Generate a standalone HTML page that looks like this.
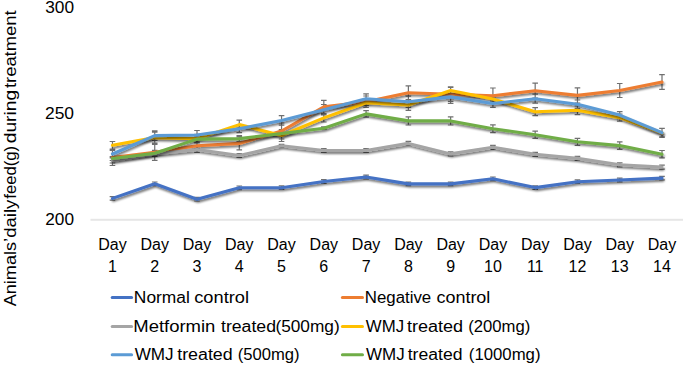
<!DOCTYPE html>
<html><head><meta charset="utf-8"><style>
html,body{margin:0;padding:0;background:#fff;}
body{width:685px;height:365px;overflow:hidden;position:relative;}
svg{position:absolute;left:0;top:0;}
text{font-family:"Liberation Sans",sans-serif;fill:#000;}
</style></head><body>
<svg width="685" height="365" viewBox="0 0 685 365">
<defs>
<filter id="sh" x="-5%" y="-20%" width="110%" height="160%">
<feGaussianBlur in="SourceAlpha" stdDeviation="1.0"/>
<feOffset dx="0.5" dy="1.6" result="b"/>
<feComponentTransfer><feFuncA type="linear" slope="0.55"/></feComponentTransfer>
<feMerge><feMergeNode/><feMergeNode in="SourceGraphic"/></feMerge>
</filter>
</defs>
<rect x="0" y="0" width="685" height="365" fill="#fff"/>

<rect x="90.5" y="218.8" width="592.5" height="2" fill="#E6E6E6"/>
<text x="45.19" y="12.8" font-size="16" textLength="28.87" lengthAdjust="spacingAndGlyphs">300</text>
<text x="44.98" y="118.9" font-size="16" textLength="29.08" lengthAdjust="spacingAndGlyphs">250</text>
<text x="45.29" y="224.6" font-size="16" textLength="28.77" lengthAdjust="spacingAndGlyphs">200</text>
<text x="112.46" y="250" font-size="16" text-anchor="middle">Day</text>
<text x="112.46" y="272.2" font-size="16" text-anchor="middle">1</text>
<text x="154.73" y="250" font-size="16" text-anchor="middle">Day</text>
<text x="154.73" y="272.2" font-size="16" text-anchor="middle">2</text>
<text x="197.00" y="250" font-size="16" text-anchor="middle">Day</text>
<text x="197.00" y="272.2" font-size="16" text-anchor="middle">3</text>
<text x="239.28" y="250" font-size="16" text-anchor="middle">Day</text>
<text x="239.28" y="272.2" font-size="16" text-anchor="middle">4</text>
<text x="281.55" y="250" font-size="16" text-anchor="middle">Day</text>
<text x="281.55" y="272.2" font-size="16" text-anchor="middle">5</text>
<text x="323.82" y="250" font-size="16" text-anchor="middle">Day</text>
<text x="323.82" y="272.2" font-size="16" text-anchor="middle">6</text>
<text x="366.09" y="250" font-size="16" text-anchor="middle">Day</text>
<text x="366.09" y="272.2" font-size="16" text-anchor="middle">7</text>
<text x="408.37" y="250" font-size="16" text-anchor="middle">Day</text>
<text x="408.37" y="272.2" font-size="16" text-anchor="middle">8</text>
<text x="450.64" y="250" font-size="16" text-anchor="middle">Day</text>
<text x="450.64" y="272.2" font-size="16" text-anchor="middle">9</text>
<text x="492.91" y="250" font-size="16" text-anchor="middle">Day</text>
<text x="492.91" y="272.2" font-size="16" text-anchor="middle">10</text>
<text x="535.18" y="250" font-size="16" text-anchor="middle">Day</text>
<text x="535.18" y="272.2" font-size="16" text-anchor="middle">11</text>
<text x="577.46" y="250" font-size="16" text-anchor="middle">Day</text>
<text x="577.46" y="272.2" font-size="16" text-anchor="middle">12</text>
<text x="619.73" y="250" font-size="16" text-anchor="middle">Day</text>
<text x="619.73" y="272.2" font-size="16" text-anchor="middle">13</text>
<text x="662.00" y="250" font-size="16" text-anchor="middle">Day</text>
<text x="662.00" y="272.2" font-size="16" text-anchor="middle">14</text>
<g transform="translate(15.6,0) rotate(-90)"><text x="-306.30" y="0" font-size="16" textLength="68.40" lengthAdjust="spacingAndGlyphs">Animals’</text><text x="-237.87" y="0" font-size="16" textLength="38.15" lengthAdjust="spacingAndGlyphs">daily</text><text x="-198.76" y="0" font-size="16" textLength="52.85" lengthAdjust="spacingAndGlyphs">feed(g)</text><text x="-143.30" y="0" font-size="16" textLength="53.38" lengthAdjust="spacingAndGlyphs">during</text><text x="-88.09" y="0" font-size="16" textLength="77.70" lengthAdjust="spacingAndGlyphs">treatment</text></g>
<path d="M112.46,196.60V200.20M109.66,196.60h5.6M109.66,200.20h5.6M154.73,182.00V185.60M151.93,182.00h5.6M151.93,185.60h5.6M197.00,197.40V201.00M194.20,197.40h5.6M194.20,201.00h5.6M239.28,186.00V189.60M236.48,186.00h5.6M236.48,189.60h5.6M281.55,185.90V189.50M278.75,185.90h5.6M278.75,189.50h5.6M323.82,179.70V183.30M321.02,179.70h5.6M321.02,183.30h5.6M366.09,175.20V178.80M363.29,175.20h5.6M363.29,178.80h5.6M408.37,182.10V185.70M405.57,182.10h5.6M405.57,185.70h5.6M450.64,182.10V185.70M447.84,182.10h5.6M447.84,185.70h5.6M492.91,177.00V180.60M490.11,177.00h5.6M490.11,180.60h5.6M535.18,185.80V189.40M532.38,185.80h5.6M532.38,189.40h5.6M577.46,179.90V183.50M574.66,179.90h5.6M574.66,183.50h5.6M619.73,178.20V181.80M616.93,178.20h5.6M616.93,181.80h5.6M662.00,176.30V179.90M659.20,176.30h5.6M659.20,179.90h5.6M112.46,149.50V165.50M109.66,149.50h5.6M109.66,165.50h5.6M154.73,144.30V160.30M151.93,144.30h5.6M151.93,160.30h5.6M197.00,142.80V148.80M194.20,142.80h5.6M194.20,148.80h5.6M239.28,136.90V149.90M236.48,136.90h5.6M236.48,149.90h5.6M281.55,123.00V139.00M278.75,123.00h5.6M278.75,139.00h5.6M323.82,100.30V113.50M321.02,100.30h5.6M321.02,113.50h5.6M366.09,96.00V107.40M363.29,96.00h5.6M363.29,107.40h5.6M408.37,85.80V99.80M405.57,85.80h5.6M405.57,99.80h5.6M450.64,87.30V101.30M447.84,87.30h5.6M447.84,101.30h5.6M492.91,88.00V103.40M490.11,88.00h5.6M490.11,103.40h5.6M535.18,83.20V98.20M532.38,83.20h5.6M532.38,98.20h5.6M577.46,87.80V103.00M574.66,87.80h5.6M574.66,103.00h5.6M619.73,83.50V97.50M616.93,83.50h5.6M616.93,97.50h5.6M662.00,74.60V89.40M659.20,74.60h5.6M659.20,89.40h5.6M112.46,158.00V163.00M109.66,158.00h5.6M109.66,163.00h5.6M154.73,152.50V155.50M151.93,152.50h5.6M151.93,155.50h5.6M197.00,146.70V152.30M194.20,146.70h5.6M194.20,152.30h5.6M239.28,153.50V157.50M236.48,153.50h5.6M236.48,157.50h5.6M281.55,144.30V147.30M278.75,144.30h5.6M278.75,147.30h5.6M323.82,148.50V152.50M321.02,148.50h5.6M321.02,152.50h5.6M366.09,148.50V152.50M363.29,148.50h5.6M363.29,152.50h5.6M408.37,141.40V145.40M405.57,141.40h5.6M405.57,145.40h5.6M450.64,151.90V155.90M447.84,151.90h5.6M447.84,155.90h5.6M492.91,145.30V149.30M490.11,145.30h5.6M490.11,149.30h5.6M535.18,152.30V156.30M532.38,152.30h5.6M532.38,156.30h5.6M577.46,156.40V160.40M574.66,156.40h5.6M574.66,160.40h5.6M619.73,162.80V166.80M616.93,162.80h5.6M616.93,166.80h5.6M662.00,165.10V169.10M659.20,165.10h5.6M659.20,169.10h5.6M112.46,141.50V149.10M109.66,141.50h5.6M109.66,149.10h5.6M154.73,132.10V143.10M151.93,132.10h5.6M151.93,143.10h5.6M197.00,134.30V142.90M194.20,134.30h5.6M194.20,142.90h5.6M239.28,120.20V129.00M236.48,120.20h5.6M236.48,129.00h5.6M281.55,129.50V141.50M278.75,129.50h5.6M278.75,141.50h5.6M323.82,113.80V122.00M321.02,113.80h5.6M321.02,122.00h5.6M366.09,100.10V105.50M363.29,100.10h5.6M363.29,105.50h5.6M408.37,99.70V110.30M405.57,99.70h5.6M405.57,110.30h5.6M450.64,86.80V94.20M447.84,86.80h5.6M447.84,94.20h5.6M492.91,96.80V101.20M490.11,96.80h5.6M490.11,101.20h5.6M535.18,107.70V115.70M532.38,107.70h5.6M532.38,115.70h5.6M577.46,105.80V114.60M574.66,105.80h5.6M574.66,114.60h5.6M619.73,114.00V121.20M616.93,114.00h5.6M616.93,121.20h5.6M662.00,128.50V137.30M659.20,128.50h5.6M659.20,137.30h5.6M112.46,150.40V157.60M109.66,150.40h5.6M109.66,157.60h5.6M154.73,130.80V140.40M151.93,130.80h5.6M151.93,140.40h5.6M197.00,130.50V139.50M194.20,130.50h5.6M194.20,139.50h5.6M239.28,124.90V132.70M236.48,124.90h5.6M236.48,132.70h5.6M281.55,115.60V125.20M278.75,115.60h5.6M278.75,125.20h5.6M323.82,104.50V114.90M321.02,104.50h5.6M321.02,114.90h5.6M366.09,93.90V103.50M363.29,93.90h5.6M363.29,103.50h5.6M408.37,96.10V107.30M405.57,96.10h5.6M405.57,107.30h5.6M450.64,90.50V103.30M447.84,90.50h5.6M447.84,103.30h5.6M492.91,99.70V107.30M490.11,99.70h5.6M490.11,107.30h5.6M535.18,94.20V103.20M532.38,94.20h5.6M532.38,103.20h5.6M577.46,100.00V108.40M574.66,100.00h5.6M574.66,108.40h5.6M619.73,111.60V118.60M616.93,111.60h5.6M616.93,118.60h5.6M662.00,128.30V136.90M659.20,128.30h5.6M659.20,136.90h5.6M112.46,156.50V160.50M109.66,156.50h5.6M109.66,160.50h5.6M154.73,150.30V156.30M151.93,150.30h5.6M151.93,156.30h5.6M197.00,136.10V142.10M194.20,136.10h5.6M194.20,142.10h5.6M239.28,135.70V141.50M236.48,135.70h5.6M236.48,141.50h5.6M281.55,131.00V136.00M278.75,131.00h5.6M278.75,136.00h5.6M323.82,126.90V129.50M321.02,126.90h5.6M321.02,129.50h5.6M366.09,110.70V117.10M363.29,110.70h5.6M363.29,117.10h5.6M408.37,116.80V125.00M405.57,116.80h5.6M405.57,125.00h5.6M450.64,116.80V125.00M447.84,116.80h5.6M447.84,125.00h5.6M492.91,124.80V132.60M490.11,124.80h5.6M490.11,132.60h5.6M535.18,131.20V138.40M532.38,131.20h5.6M532.38,138.40h5.6M577.46,138.30V145.30M574.66,138.30h5.6M574.66,145.30h5.6M619.73,141.90V149.30M616.93,141.90h5.6M616.93,149.30h5.6M662.00,150.50V157.90M659.20,150.50h5.6M659.20,157.90h5.6" stroke="#707070" stroke-width="1.2" fill="none"/>
<g filter="url(#sh)"><polyline points="112.46,198.40 154.73,183.80 197.00,199.20 239.28,187.80 281.55,187.70 323.82,181.50 366.09,177.00 408.37,183.90 450.64,183.90 492.91,178.80 535.18,187.60 577.46,181.70 619.73,180.00 662.00,178.10" fill="none" stroke="#4472C4" stroke-width="3.1" stroke-linejoin="round" stroke-linecap="round"/></g>
<g filter="url(#sh)"><polyline points="112.46,157.50 154.73,152.30 197.00,145.80 239.28,143.40 281.55,131.00 323.82,106.90 366.09,101.70 408.37,92.80 450.64,94.30 492.91,95.70 535.18,90.70 577.46,95.40 619.73,90.50 662.00,82.00" fill="none" stroke="#ED7D31" stroke-width="3.1" stroke-linejoin="round" stroke-linecap="round"/></g>
<g filter="url(#sh)"><polyline points="112.46,160.50 154.73,154.00 197.00,149.50 239.28,155.50 281.55,145.80 323.82,150.50 366.09,150.50 408.37,143.40 450.64,153.90 492.91,147.30 535.18,154.30 577.46,158.40 619.73,164.80 662.00,167.10" fill="none" stroke="#A5A5A5" stroke-width="3.1" stroke-linejoin="round" stroke-linecap="round"/></g>
<g filter="url(#sh)"><polyline points="112.46,145.30 154.73,137.60 197.00,138.60 239.28,124.60 281.55,135.50 323.82,117.90 366.09,102.80 408.37,105.00 450.64,90.50 492.91,99.00 535.18,111.70 577.46,110.20 619.73,117.60 662.00,132.90" fill="none" stroke="#FFC000" stroke-width="3.1" stroke-linejoin="round" stroke-linecap="round"/></g>
<g filter="url(#sh)"><polyline points="112.46,154.00 154.73,135.60 197.00,135.00 239.28,128.80 281.55,120.40 323.82,109.70 366.09,98.70 408.37,101.70 450.64,96.90 492.91,103.50 535.18,98.70 577.46,104.20 619.73,115.10 662.00,132.60" fill="none" stroke="#5B9BD5" stroke-width="3.1" stroke-linejoin="round" stroke-linecap="round"/></g>
<g filter="url(#sh)"><polyline points="112.46,158.50 154.73,153.30 197.00,139.10 239.28,138.60 281.55,133.50 323.82,128.20 366.09,113.90 408.37,120.90 450.64,120.90 492.91,128.70 535.18,134.80 577.46,141.80 619.73,145.60 662.00,154.20" fill="none" stroke="#70AD47" stroke-width="3.1" stroke-linejoin="round" stroke-linecap="round"/></g>
<line x1="112.2" y1="297.6" x2="131.6" y2="297.6" stroke="#4472C4" stroke-width="3" stroke-linecap="round"/>
<text x="133.84" y="302.8" font-size="16" textLength="56.01" lengthAdjust="spacingAndGlyphs">Normal</text>
<text x="194.25" y="302.8" font-size="16" textLength="54.73" lengthAdjust="spacingAndGlyphs">control</text>
<line x1="342.4" y1="297.6" x2="362.5" y2="297.6" stroke="#ED7D31" stroke-width="3" stroke-linecap="round"/>
<text x="364.79" y="302.8" font-size="16" textLength="66.40" lengthAdjust="spacingAndGlyphs">Negative</text>
<text x="436.46" y="302.8" font-size="16" textLength="53.90" lengthAdjust="spacingAndGlyphs">control</text>
<line x1="112.2" y1="326.4" x2="131.6" y2="326.4" stroke="#A5A5A5" stroke-width="3" stroke-linecap="round"/>
<text x="133.26" y="331.6" font-size="16" textLength="82.14" lengthAdjust="spacingAndGlyphs">Metformin</text>
<text x="221.02" y="331.6" font-size="16" textLength="54.95" lengthAdjust="spacingAndGlyphs">treated</text>
<text x="275.42" y="331.6" font-size="16" textLength="64.24" lengthAdjust="spacingAndGlyphs">(500mg)</text>
<line x1="342.4" y1="326.4" x2="362.5" y2="326.4" stroke="#FFC000" stroke-width="3" stroke-linecap="round"/>
<text x="365.80" y="331.6" font-size="16" textLength="38.25" lengthAdjust="spacingAndGlyphs">WMJ</text>
<text x="407.02" y="331.6" font-size="16" textLength="56.08" lengthAdjust="spacingAndGlyphs">treated</text>
<text x="468.16" y="331.6" font-size="16" textLength="62.06" lengthAdjust="spacingAndGlyphs">(200mg)</text>
<line x1="112.2" y1="354.8" x2="131.6" y2="354.8" stroke="#5B9BD5" stroke-width="3" stroke-linecap="round"/>
<text x="134.70" y="360.2" font-size="16" textLength="38.97" lengthAdjust="spacingAndGlyphs">WMJ</text>
<text x="177.22" y="360.2" font-size="16" textLength="55.46" lengthAdjust="spacingAndGlyphs">treated</text>
<text x="237.76" y="360.2" font-size="16" textLength="61.86" lengthAdjust="spacingAndGlyphs">(500mg)</text>
<line x1="342.4" y1="354.8" x2="362.5" y2="354.8" stroke="#70AD47" stroke-width="3" stroke-linecap="round"/>
<text x="366.10" y="360.2" font-size="16" textLength="38.66" lengthAdjust="spacingAndGlyphs">WMJ</text>
<text x="407.73" y="360.2" font-size="16" textLength="54.74" lengthAdjust="spacingAndGlyphs">treated</text>
<text x="468.85" y="360.2" font-size="16" textLength="71.68" lengthAdjust="spacingAndGlyphs">(1000mg)</text>
</svg></body></html>
